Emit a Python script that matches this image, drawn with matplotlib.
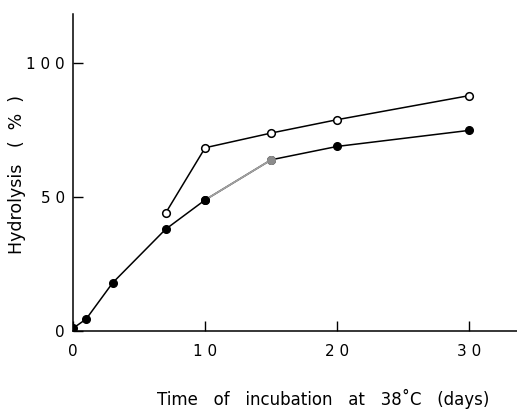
import matplotlib
matplotlib.use("Agg")
import matplotlib.pyplot as plt

# incubation time (days) and hydrolysis (%)
open_days = [7, 10, 15, 20, 30]
open_hydrolysis = [44, 68.5, 74, 79, 88]

filled_days = [0, 1, 3, 7, 10, 15, 20, 30]
filled_hydrolysis = [1, 4.5, 18, 38, 49, 64, 69, 75]

x_ticks = [0, 10, 20, 30]
x_tick_labels = ["0", "1 0", "2 0", "3 0"]
y_ticks = [0, 50, 100]
y_tick_labels = ["0", "5 0", "1 0 0"]

plt.rcParams["font.family"] = "DejaVu Sans"

fig = plt.figure(figsize=(5.17, 4.09), dpi=100)
ax = fig.add_axes([0.1412, 0.1907, 0.8588, 0.7751])

ax.plot(open_days, open_hydrolysis, color="black", lw=1.1, marker="o",
        ms=5.5, mfc="white", mec="black", mew=1.1, zorder=3)
ax.plot(filled_days, filled_hydrolysis, color="black", lw=1.1, marker="o",
        ms=5.5, mfc="black", mec="black", zorder=3)

# the scanned original has a faded segment between day 10 and 15
i = filled_days.index(15)
ax.plot(filled_days[i - 1:i + 1], filled_hydrolysis[i - 1:i + 1], color="#a0a0a0",
        lw=1.3, zorder=4)
ax.plot(filled_days[i], filled_hydrolysis[i], "o", color="#8c8c8c", ms=5.5, zorder=5)
ax.plot(filled_days[i - 1], filled_hydrolysis[i - 1], "o", color="black", ms=5.5, zorder=5)

ax.set_xlim(0, 33.6)
ax.set_ylim(0, 118.5)
ax.set_xticks(x_ticks)
ax.set_xticklabels(x_tick_labels)
ax.set_yticks(y_ticks)
ax.set_yticklabels(y_tick_labels)
ax.tick_params(direction="in", length=7, width=1, labelsize=11, colors="black")
ax.tick_params(axis="x", pad=9)
ax.tick_params(axis="y", pad=6)

for side in ["top", "right"]:
    ax.spines[side].set_visible(False)
for side in ["left", "bottom"]:
    ax.spines[side].set_linewidth(1.1)

ax.set_xlabel("Time   of   incubation   at   38\u02daC   (days)", fontsize=12)
ax.xaxis.set_label_coords(0.563, -0.183)
ax.set_ylabel("Hydrolysis   (  %  )", fontsize=12.5)
ax.yaxis.set_label_coords(-0.106, 0.495)

fig.savefig("out.png", dpi=100)
